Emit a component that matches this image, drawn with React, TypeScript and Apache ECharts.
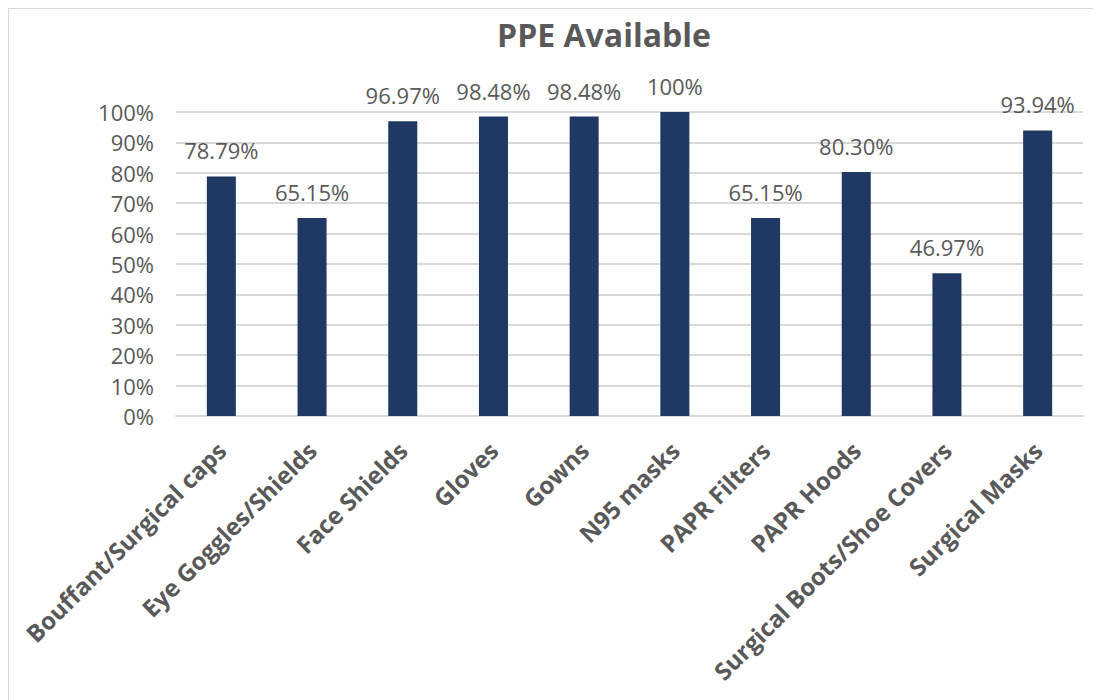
import React, { useEffect, useRef } from "react";
import * as echarts from "echarts";

const categories = [
  "Bouffant/Surgical caps",
  "Eye Goggles/Shields",
  "Face Shields",
  "Gloves",
  "Gowns",
  "N95 masks",
  "PAPR Filters",
  "PAPR Hoods",
  "Surgical Boots/Shoe Covers",
  "Surgical Masks",
];
const values = [78.79, 65.15, 96.97, 98.48, 98.48, 100, 65.15, 80.3, 46.97, 93.94];
const labels = ["78.79%", "65.15%", "96.97%", "98.48%", "98.48%", "100%", "65.15%", "80.30%", "46.97%", "93.94%"];

export default function App() {
  const ref = useRef<HTMLDivElement>(null);
  useEffect(() => {
    if (!ref.current) return;
    const chart = echarts.init(ref.current, null, { renderer: "svg" });
    chart.setOption({
      animation: false,
      backgroundColor: "#ffffff",
      textStyle: { fontFamily: "Open Sans" },
      title: {
        text: "PPE Available",
        left: 590,
        top: 4,
        textAlign: "center",
        textStyle: { fontFamily: "Open Sans", fontSize: 32, fontWeight: "bold", color: "#595959" },
      },
      grid: { left: 167, right: 10, top: 103, bottom: 284, containLabel: false },
      xAxis: {
        type: "category",
        data: categories,
        axisTick: { show: false },
        axisLine: { show: true, lineStyle: { color: "#d9d9d9", width: 2 } },
        axisLabel: {
          rotate: 45,
          interval: 0,
          margin: 30,
          fontFamily: "Open Sans",
          fontSize: 24,
          fontWeight: "bold",
          color: "#595959",
        },
      },
      yAxis: {
        type: "value",
        min: 0,
        max: 100,
        interval: 10,
        axisLine: { show: false },
        axisTick: { show: false },
        splitLine: { lineStyle: { color: "#d9d9d9", width: 2 } },
        axisLabel: {
          formatter: "{value}%",
          margin: 22,
          fontFamily: "Open Sans",
          fontSize: 22,
          color: "#595959",
        },
      },
      series: [
        {
          type: "bar",
          data: values,
          barWidth: "32%",
          itemStyle: { color: "#1f3864" },
          label: {
            show: true,
            position: "top",
            distance: 15,
            fontFamily: "Open Sans",
            fontSize: 22,
            color: "#595959",
            formatter: (p: any) => labels[p.dataIndex],
          },
        },
      ],
    });
    return () => chart.dispose();
  }, []);
  return (
    <div
      style={{
        width: 1084,
        height: 691,
        borderTop: "1px solid #d9d9d9",
        borderLeft: "1px solid #d9d9d9",
        overflow: "hidden",
      }}
    >
      <div ref={ref} style={{ width: 1084, height: 691 }} />
    </div>
  );
}
